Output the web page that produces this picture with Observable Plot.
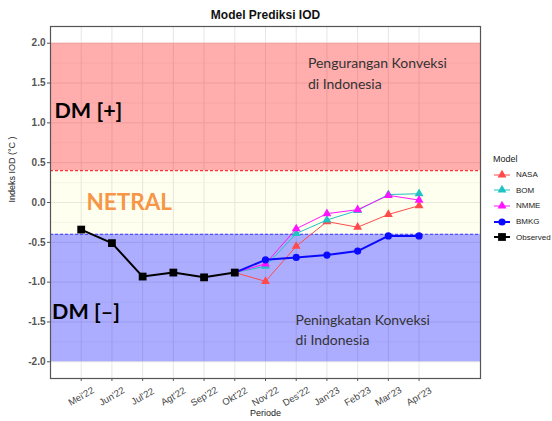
<!DOCTYPE html>
<html><head><meta charset="utf-8">
<script src="https://cdn.jsdelivr.net/npm/d3@7"></script>
<script src="https://cdn.jsdelivr.net/npm/@observablehq/plot@0.6"></script>
<style>
body{margin:0;background:#fff}
#wrap{position:relative;width:552px;height:421px;overflow:hidden}
#legend{position:absolute;left:490px;top:154px;font-family:"Liberation Sans",Arial,sans-serif;color:#222}
#legend .ttl{font-size:9px;margin:0 0 3px 3px}
#legend .row{display:flex;align-items:center;height:15.6px;font-size:8px}
#legend svg{margin-right:4px}
</style>
</head><body><div id="wrap"><div id="legend"></div></div>
<script>
// ---- data ----
const months = ["Mei'22","Jun'22","Jul'22","Agt'22","Sep'22","Okt'22","Nov'22","Des'22","Jan'23","Feb'23","Mar'23","Apr'23"];
const observedMonths = ["Mei'22","Jun'22","Jul'22","Agt'22","Sep'22","Okt'22"];
const observed = [-0.34,-0.51,-0.93,-0.88,-0.94,-0.88];
const forecastMonths = ["Okt'22","Nov'22","Des'22","Jan'23","Feb'23","Mar'23","Apr'23"];
const nasa = [-0.88,-0.99,-0.55,-0.24,-0.31,-0.15,-0.04];
const bom  = [-0.88,-0.80,-0.39,-0.22,-0.10,0.10,0.11];
const nmme = [-0.88,-0.77,-0.33,-0.14,-0.09,0.09,0.03];
const bmkg = [-0.88,-0.72,-0.69,-0.66,-0.61,-0.42,-0.42];
const models = ["NASA","BOM","NMME","BMKG","Observed"];
const yTicks = [2.0,1.5,1.0,0.5,0.0,-0.5,-1.0,-1.5,-2.0];
const bandLow = [0.4,-0.4,-2.0];
const bandHigh = [2.0,0.4,-0.4];
const thresholds = [0.4,-0.4];
const zoneLabels = ["DM [+]","NETRAL","DM [–]"];
const notes = ["Pengurangan Konveksi\ndi Indonesia","Peningkatan Konveksi\ndi Indonesia"];
const title = "Model Prediksi IOD";
const yLabel = "Indeks IOD (°C )";
const xLabel = "Periode";

// ---- styles ----
const modelColors = {NASA:"#FF4B4B",BOM:"#1FC3C3",NMME:"#FF14FF",BMKG:"#0A0AFF",Observed:"#000000"};
const modelSymbols = {NASA:"triangle",BOM:"triangle",NMME:"triangle",BMKG:"circle",Observed:"square"};
const modelWidths = {NASA:1,BOM:1,NMME:1,BMKG:2,Observed:2};
const modelR = {NASA:3.3,BOM:3.3,NMME:3.3,BMKG:3.6,Observed:4.4};
const bandFills = ["#FF0000","#FFFF80","#0000FF"];
const bandOpac = [0.32,0.12,0.32];
const thresholdColors = ["#FF3030","#5050FF"];

const idx = m => months.indexOf(m) + 1;
const seriesVals = {NASA:nasa,BOM:bom,NMME:nmme,BMKG:bmkg};
const series = models.map(name => {
  const ms = name === "Observed" ? observedMonths : forecastMonths;
  const vals = name === "Observed" ? observed : seriesVals[name];
  return {name, rows: ms.map((m,i) => ({x: idx(m), y: vals[i]}))};
});
const bands = bandLow.map((lo,i) => ({lo, hi: bandHigh[i], i}));
const minorY = d3.range(-2.0, 2.01, 0.25).filter(v => Math.abs(v*2 - Math.round(v*2)) > 1e-6);
const xTicks = d3.range(1, months.length+1);

const marks = [
  Plot.ruleY(minorY, {stroke:"#EEEEEE", strokeWidth:0.6}),
  Plot.ruleY(yTicks, {stroke:"#E6E6E6", strokeWidth:1}),
  Plot.ruleX(xTicks, {stroke:"#E6E6E6", strokeWidth:1}),
  Plot.rect(bands, {x1:() => 0, x2:() => 14, y1:"lo", y2:"hi", fill: d => bandFills[d.i], fillOpacity: d => bandOpac[d.i]}),
  Plot.ruleY(thresholds, {stroke:(d,i) => thresholdColors[i], strokeDasharray:"3,2", strokeWidth:1.1}),
  Plot.text([zoneLabels[0]], {x:() => 0.13, y:() => 1.15, textAnchor:"start", fontFamily:"Lato", fontWeight:"bold", fontSize:21.5, fill:"#000"}),
  Plot.text([zoneLabels[1]], {x:() => 1.17, y:() => -0.01, textAnchor:"start", fontFamily:"Lato", fontWeight:"bold", fontSize:22.5, fill:"#F79646"}),
  Plot.text([zoneLabels[2]], {x:() => 0.05, y:() => -1.38, textAnchor:"start", fontFamily:"Lato", fontWeight:"bold", fontSize:21.5, fill:"#000"}),
  Plot.text([notes[0]], {x:() => 8.38, y:() => 1.64, textAnchor:"start", fontFamily:"Lato", fontSize:14, lineHeight:1.5, fill:"#333"}),
  Plot.text([notes[1]], {x:() => 7.98, y:() => -1.585, textAnchor:"start", fontFamily:"Lato", fontSize:14, lineHeight:1.42, fill:"#333"})
];
for (const s of series) {
  marks.push(Plot.line(s.rows, {x:"x", y:"y", stroke: modelColors[s.name], strokeWidth: modelWidths[s.name]}));
}
for (const s of series) {
  const pts = s.name === "Observed" ? s.rows : s.rows.slice(1);
  marks.push(Plot.dot(pts, {x:"x", y:"y", symbol: modelSymbols[s.name], r: modelR[s.name], fill: modelColors[s.name], stroke:"none"}));
}
marks.push(
  Plot.frame({stroke:"#555", strokeWidth:1.2}),
  Plot.axisY(yTicks, {tickFormat: d => d.toFixed(1), tickSize:3, tickPadding:2, color:"#555", fontSize:10, fontWeight:"bold", fontFamily:"Liberation Sans", label:null}),
  Plot.axisX(xTicks, {tickFormat: () => "", tickSize:3, color:"#555", label:null}),
  Plot.text(months, {x:(d,i) => i+1, frameAnchor:"bottom", lineAnchor:"middle", dy:18, rotate:-30, textAnchor:"middle", fontSize:9.5, fontFamily:"Liberation Sans", fill:"#444"}),
  Plot.text([title], {frameAnchor:"top", lineAnchor:"middle", dy:-11, fontSize:12, fontWeight:"bold", fontFamily:"Liberation Sans", fill:"#111"}),
  Plot.text([xLabel], {frameAnchor:"bottom", lineAnchor:"middle", dy:35, fontSize:9, fontFamily:"Liberation Sans", fill:"#222"}),
  Plot.text([yLabel], {frameAnchor:"left", dx:-38, rotate:-90, fontSize:9, fontFamily:"Liberation Sans", fill:"#222"})
);

const chart = Plot.plot({
  width:552, height:421,
  marginLeft:50, marginRight:72, marginTop:26, marginBottom:43,
  x:{type:"linear", domain:[0,14], axis:null},
  y:{type:"linear", domain:[-2.21,2.21], axis:null},
  style:{fontFamily:"Liberation Sans", background:"#fff", overflow:"visible"},
  marks
});
document.getElementById("wrap").prepend(chart);

// ---- legend ----
const lg = d3.select("#legend");
lg.append("div").attr("class","ttl").text("Model");
for (const m of models) {
  const row = lg.append("div").attr("class","row");
  const sv = row.append("svg").attr("width",22).attr("height",12);
  sv.append("line").attr("x1",4).attr("x2",20).attr("y1",6).attr("y2",6)
    .attr("stroke",modelColors[m]).attr("stroke-width",modelWidths[m]);
  const sym = {triangle:d3.symbolTriangle,circle:d3.symbolCircle,square:d3.symbolSquare}[modelSymbols[m]];
  sv.append("path").attr("transform","translate(12,6)")
    .attr("d", d3.symbol(sym, Math.PI*modelR[m]*modelR[m])()).attr("fill",modelColors[m]);
  row.append("span").text(m);
}
</script>
</body></html>
